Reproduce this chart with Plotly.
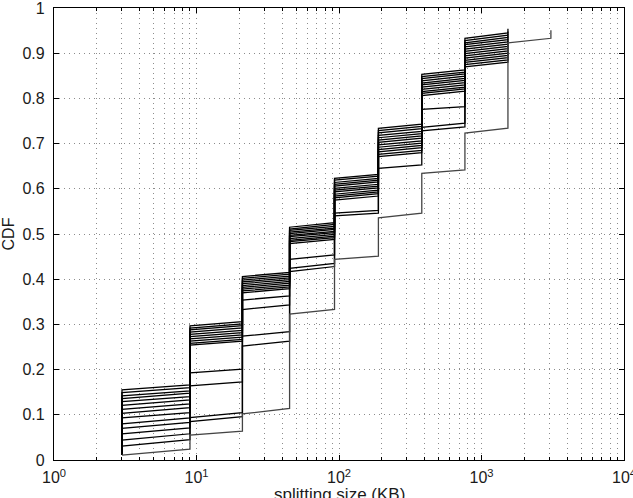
import plotly.graph_objects as go

# step positions (KB)
STEP_X = [3, 9, 21, 45, 93, 189, 381, 765, 1533, 3069]
FLOOR = 0.011  # bottom of the first vertical jump at x = 3

# value just after each jump (start of segment) for 15 curves, ranked top->bottom
SEG_START = [
    [0.155, 0.149, 0.142, 0.136, 0.129, 0.121, 0.112, 0.103, 0.093, 0.080, 0.070, 0.058, 0.044, 0.031, 0.011],
    [0.297, 0.292, 0.288, 0.283, 0.278, 0.273, 0.268, 0.263, 0.258, 0.254, 0.193, 0.164, 0.094, 0.085, 0.055],
    [0.406, 0.402, 0.398, 0.394, 0.390, 0.386, 0.382, 0.378, 0.374, 0.370, 0.354, 0.333, 0.274, 0.252, 0.102],
    [0.515, 0.511, 0.508, 0.504, 0.501, 0.497, 0.494, 0.490, 0.486, 0.483, 0.479, 0.444, 0.424, 0.417, 0.323],
    [0.623, 0.619, 0.614, 0.610, 0.606, 0.601, 0.597, 0.593, 0.588, 0.584, 0.580, 0.575, 0.546, 0.540, 0.444],
    [0.734, 0.729, 0.724, 0.718, 0.713, 0.708, 0.703, 0.697, 0.692, 0.687, 0.682, 0.676, 0.671, 0.645, 0.536],
    [0.853, 0.848, 0.844, 0.839, 0.834, 0.830, 0.825, 0.820, 0.815, 0.811, 0.806, 0.776, 0.736, 0.728, 0.634],
    [0.933, 0.928, 0.923, 0.919, 0.914, 0.909, 0.904, 0.899, 0.894, 0.889, 0.884, 0.880, 0.875, 0.870, 0.723],
]
# value just before the next jump (end of segment)
SEG_END = [
    [0.166, 0.160, 0.153, 0.148, 0.140, 0.133, 0.124, 0.116, 0.105, 0.093, 0.083, 0.071, 0.058, 0.045, 0.024],
    [0.306, 0.301, 0.297, 0.292, 0.287, 0.282, 0.277, 0.272, 0.267, 0.263, 0.201, 0.173, 0.105, 0.096, 0.064],
    [0.415, 0.411, 0.407, 0.403, 0.399, 0.395, 0.391, 0.387, 0.383, 0.379, 0.363, 0.343, 0.284, 0.263, 0.114],
    [0.525, 0.521, 0.517, 0.513, 0.510, 0.506, 0.503, 0.499, 0.495, 0.492, 0.488, 0.454, 0.435, 0.428, 0.333],
    [0.632, 0.628, 0.623, 0.619, 0.615, 0.610, 0.606, 0.602, 0.597, 0.593, 0.589, 0.584, 0.552, 0.546, 0.451],
    [0.743, 0.738, 0.733, 0.727, 0.722, 0.717, 0.712, 0.706, 0.701, 0.696, 0.691, 0.685, 0.680, 0.653, 0.546],
    [0.863, 0.858, 0.854, 0.849, 0.844, 0.840, 0.835, 0.830, 0.825, 0.821, 0.816, 0.782, 0.745, 0.737, 0.642],
    [0.945, 0.940, 0.935, 0.930, 0.925, 0.920, 0.915, 0.910, 0.905, 0.900, 0.895, 0.890, 0.885, 0.880, 0.734],
]
# final jump value at x = 1533
FINAL = [0.954, 0.948, 0.943, 0.938, 0.933, 0.928, 0.923, 0.918, 0.913, 0.908, 0.903, 0.898, 0.893, 0.888, 0.923]
# lowest curve continues to 3069
TAIL_END = 0.933
TAIL_FINAL = 0.951

X_TICKS = [1, 10, 100, 1000, 10000]
X_TICK_TEXT = ["10<sup>0</sup>", "10<sup>1</sup>", "10<sup>2</sup>", "10<sup>3</sup>", "10<sup>4</sup>"]
Y_TICKS = [0, 0.1, 0.2, 0.3, 0.4, 0.5, 0.6, 0.7, 0.8, 0.9, 1]
Y_TICK_TEXT = ["0", "0.1", "0.2", "0.3", "0.4", "0.5", "0.6", "0.7", "0.8", "0.9", "1"]
MINOR_X = [m * 10 ** e for e in range(0, 4) for m in range(2, 10)]
X_TITLE = "splitting size (KB)"
Y_TITLE = "CDF"

fig = go.Figure()
n_lines = len(SEG_START[0])
n_seg = len(SEG_START)
for i in range(n_lines):
    xs = [STEP_X[0]]
    ys = [FLOOR]
    for k in range(n_seg):
        xs += [STEP_X[k], STEP_X[k + 1]]
        ys += [SEG_START[k][i], SEG_END[k][i]]
    xs.append(STEP_X[n_seg])
    ys.append(FINAL[i])
    if i == n_lines - 1:
        xs += [STEP_X[n_seg + 1], STEP_X[n_seg + 1]]
        ys += [TAIL_END, TAIL_FINAL]
    fig.add_trace(go.Scatter(
        x=xs, y=ys, mode="lines",
        line=dict(color="#444444" if i == n_lines - 1 else "#000000", width=1.3),
        showlegend=False, hoverinfo="skip"))

FAMILY = "Liberation Sans, Arial, Helvetica, sans-serif"
font = dict(family=FAMILY, size=16, color="#1a1a1a")
title_font = dict(family=FAMILY, size=17, color="#1a1a1a")
GRID_COLOR = "#8c8c8c"
GRID_DASH = "1px,4px"

fig.update_layout(
    width=633, height=498,
    margin=dict(l=54, r=9, t=8, b=38),
    paper_bgcolor="white", plot_bgcolor="white",
    font=font,
    xaxis=dict(
        type="log", range=[0, 4],
        tickmode="array", tickvals=X_TICKS, ticktext=X_TICK_TEXT,
        ticks="inside", ticklen=5, tickcolor="#000",
        showline=True, linecolor="#000", linewidth=1.2, mirror="allticks",
        zeroline=False,
        showgrid=True, gridcolor=GRID_COLOR, gridwidth=1, griddash=GRID_DASH,
        minor=dict(tickvals=MINOR_X, ticks="inside", ticklen=3, tickcolor="#000",
                   showgrid=True, gridcolor=GRID_COLOR, gridwidth=1, griddash=GRID_DASH),
        ticklabelstandoff=3,
        ticklabeloverflow="allow",
        automargin=False),
    yaxis=dict(
        range=[0, 1],
        tickmode="array", tickvals=Y_TICKS, ticktext=Y_TICK_TEXT,
        ticks="inside", ticklen=5, tickcolor="#000",
        showline=True, linecolor="#000", linewidth=1.2, mirror="allticks",
        zeroline=False,
        showgrid=True, gridcolor=GRID_COLOR, gridwidth=1, griddash=GRID_DASH,
        title=dict(text=Y_TITLE, standoff=6, font=font),
        ticklabelstandoff=5,
        ticklabeloverflow="allow",
        automargin=False),
    annotations=[dict(
        text=X_TITLE, xref="paper", yref="paper", x=0.5, y=0,
        xanchor="center", yanchor="top", yshift=-23, showarrow=False,
        font=title_font)],
)

fig.write_html("out.html")
